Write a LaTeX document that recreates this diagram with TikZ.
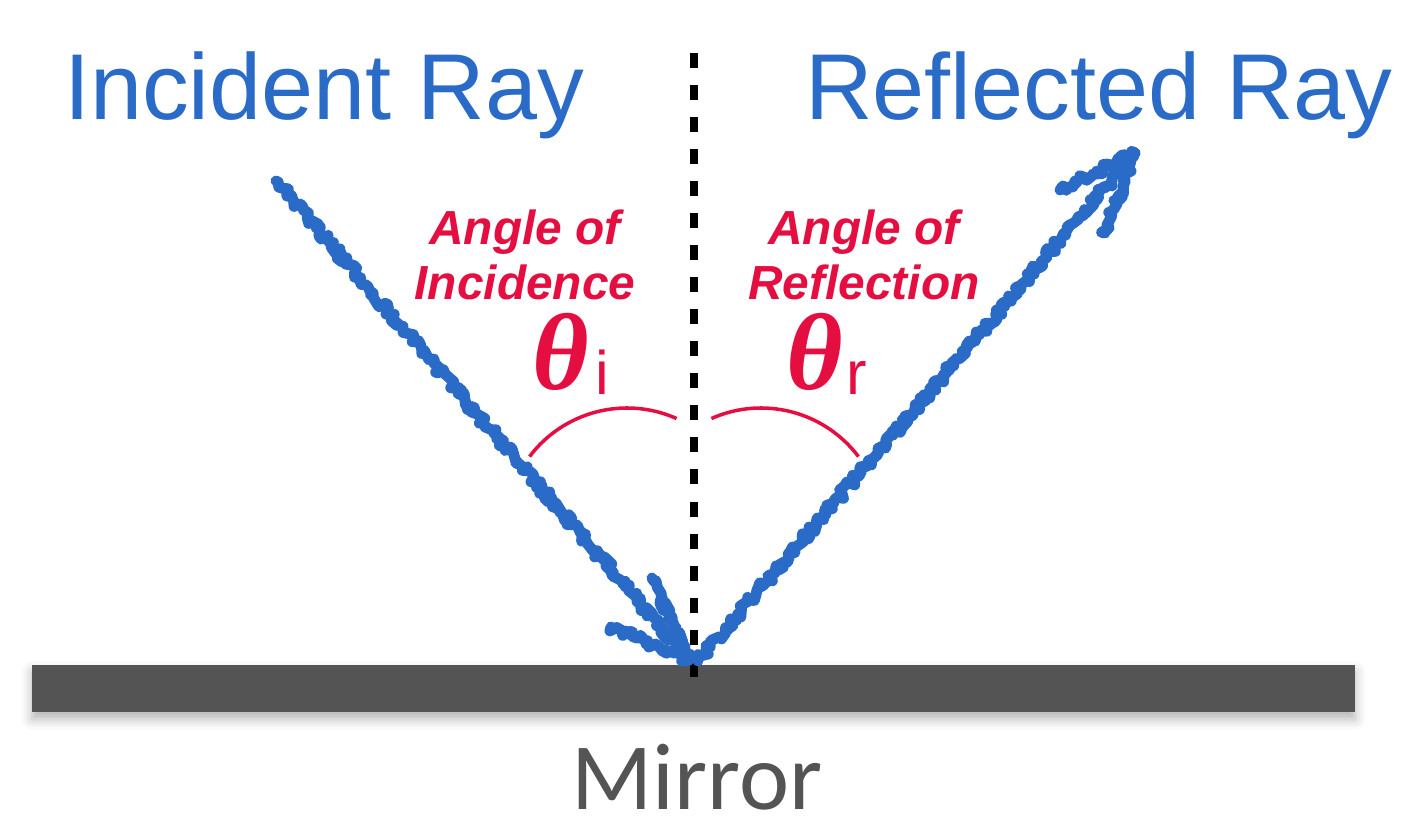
\documentclass[tikz,border=0pt]{standalone}
\usepackage{fontspec}
\setmainfont{Liberation Sans}
\newfontfamily\thetafont{Liberation Serif}
\newfontfamily\mirrorfont{Carlito}
\usetikzlibrary{decorations.pathmorphing,shadows.blur}
\definecolor{rayblue}{RGB}{42,107,199}
\definecolor{anglered}{RGB}{228,14,65}
\definecolor{mirrorgrey}{RGB}{84,84,84}
\tikzset{
  ray/.style = {rayblue, line width=3.1pt, line cap=round, line join=round,
    decorate, decoration={random steps, segment length=0.8pt, amplitude=1.2pt}},
  title/.style = {rayblue, anchor=base, inner sep=0pt,
    font=\fontsize{26.6pt}{30pt}\selectfont},
  anglename/.style = {anglered, anchor=base, inner sep=0pt, align=center,
    font=\fontsize{13.6pt}{15.65pt}\selectfont\bfseries\itshape},
  thetasym/.style = {anglered, anchor=base, inner sep=0pt,
    font=\fontsize{31pt}{34pt}\thetafont\bfseries\itshape},
  thetasub/.style = {anglered, anchor=base west, inner sep=0pt,
    font=\fontsize{17.5pt}{20pt}\selectfont},
  anglearc/.style = {anglered, line width=1pt},
}
\begin{document}
\begin{tikzpicture}[x = 0.01cm, y = -0.01cm]
  \useasboundingbox (0,0) rectangle (1402,834);
  \pgfmathsetseed{7}
  % mirror
  \fill [mirrorgrey, blur shadow={shadow xshift=0pt, shadow yshift=-2pt,
    shadow blur radius=3pt, shadow opacity=30}] (32,665) rectangle (1355,712);
  \node [anchor=base, inner sep=0pt, text=mirrorgrey,
    font=\fontsize{27pt}{30pt}\mirrorfont] (mirror) at (697,810) {Mirror};
  % normal
  \coordinate (normTop) at (694,53);
  \coordinate (normBot) at (694,677);
  \draw [line width=2.28pt, dash pattern=on 4.27pt off 4.84pt] (normTop) -- (normBot);
  % titles
  \node [title] (incTitle) at (324,120) {Incident Ray};
  \node [title] (refTitle) at (1099,120) {Reflected Ray};
  % rays
  \coordinate (inSrc) at (276,181);
  \coordinate (inTip) at (689,660);
  \coordinate (inBarbA) at (611,627);
  \coordinate (inBarbB) at (652,578);
  \coordinate (outSrc) at (698,661);
  \coordinate (outTip) at (1135,153);
  \coordinate (outBarbA) at (1060,190);
  \coordinate (outBarbB) at (1105,233);
  \draw [ray] (inSrc) -- (inTip);
  \draw [ray] (inBarbA) -- (inTip);
  \draw [ray] (inBarbB) -- (inTip);
  \draw [ray] (outSrc) -- (outTip);
  \draw [ray] (outBarbA) -- (outTip);
  \draw [ray] (outBarbB) -- (outTip);
  % angle labels
  \node [anglename] (incName) at (525,300) {Angle of\\Incidence};
  \node [anglename] (refName) at (864,300) {Angle of\\Reflection};
  \node [thetasym] (thetaI) at (561,390) {θ};
  \node [thetasub] (subI) at (595,395) {i};
  \node [thetasym] (thetaR) at (815,390) {θ};
  \node [thetasub] (subR) at (846,395) {r};
  \draw [anglearc] (627,530) ++(-143:122) arc (-143:-66:122);
  \draw [anglearc] (761,530) ++(-114:122) arc (-114:-37:122);
\end{tikzpicture}
\end{document}
